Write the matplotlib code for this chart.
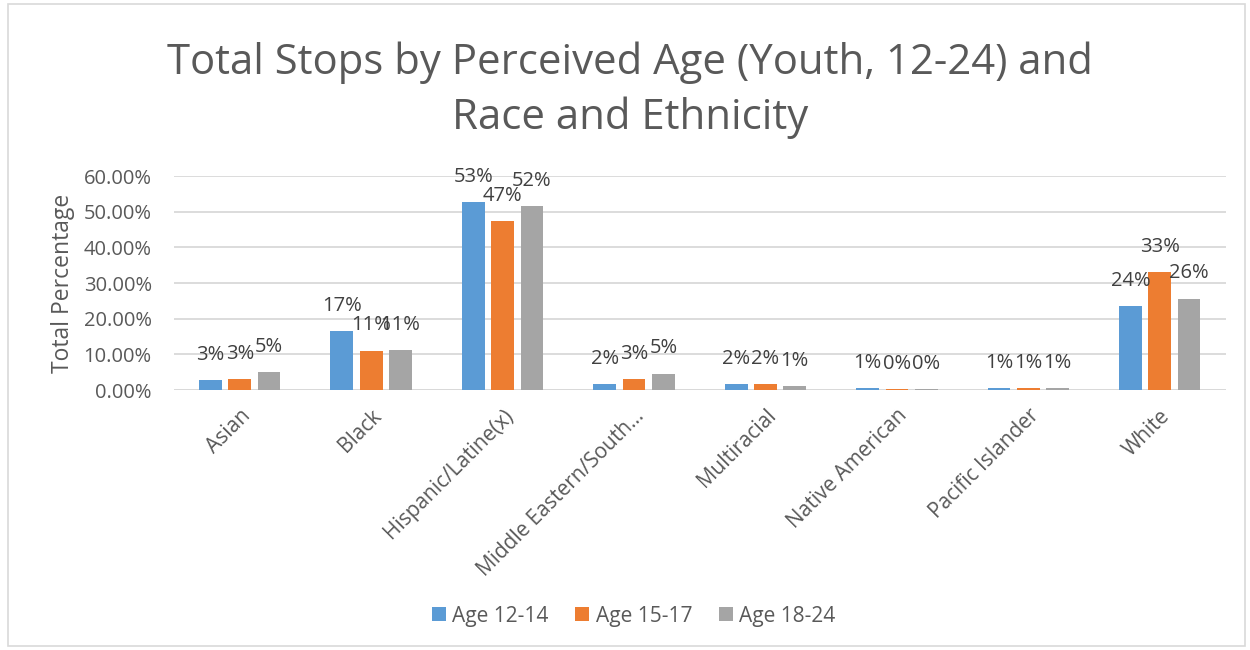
import matplotlib
matplotlib.use("Agg")
import matplotlib.pyplot as plt
import numpy as np
from matplotlib.patches import Rectangle

categories = ["Asian", "Black", "Hispanic/Latine(x)", "Middle Eastern/South…",
              "Multiracial", "Native American", "Pacific Islander", "White"]
series_names = ["Age 12-14", "Age 15-17", "Age 18-24"]
age_12_14 = [2.8, 16.6, 52.6, 1.6, 1.7, 0.6, 0.6, 23.6]
age_15_17 = [3.1, 11.0, 47.3, 3.1, 1.6, 0.3, 0.6, 33.0]
age_18_24 = [5.0, 11.1, 51.6, 4.6, 1.1, 0.2, 0.6, 25.6]
yticks = [0, 10, 20, 30, 40, 50, 60]

colors = ["#5B9BD5", "#ED7D31", "#A5A5A5"]
text_color = "#595959"
plt.rcParams['font.family'] = ['Open Sans', 'DejaVu Sans']

fig = plt.figure(figsize=(12.5, 6.5), dpi=100)
ax = fig.add_axes([0.1392, 0.4, 0.8412, 0.3292])

x = np.arange(len(categories))
step = 0.223
width = 0.173
all_series = [age_12_14, age_15_17, age_18_24]
for i, (vals, c, name) in enumerate(zip(all_series, colors, series_names)):
    pos = x + (i - 1) * step
    ax.bar(pos, vals, width=width, color=c, label=name, zorder=3)
    for px, v in zip(pos, vals):
        ax.annotate(f"{round(v):d}%", (px, v), xytext=(0, 11), textcoords="offset points",
                    ha="center", va="bottom", fontsize=14.5, color="#404040", zorder=4)

ax.set_xlim(-0.5, len(categories) - 0.5)
ax.set_ylim(0, 60)
ax.set_yticks(yticks)
ax.set_yticklabels([f"{t:.2f}%" for t in yticks], fontsize=14.5, color=text_color)
ax.yaxis.grid(True, color="#D9D9D9", linewidth=1.3, zorder=0)
ax.set_axisbelow(True)
for s in ax.spines.values():
    s.set_visible(False)
ax.tick_params(axis="both", length=0)
ax.tick_params(axis="y", pad=16)
ax.set_xticks(x)
ax.set_xticklabels(categories, rotation=45, ha="right", va="top", rotation_mode="anchor",
                   fontsize=15, color=text_color)
ax.tick_params(axis="x", pad=11)
ax.axhline(0, color="#D9D9D9", linewidth=1.3, zorder=1)

ax.set_ylabel("Total Percentage", fontsize=16.5, color=text_color, labelpad=6)

fig.text(0.504, 0.861, "Total Stops by Perceived Age (Youth, 12-24) and\nRace and Ethnicity",
         ha="center", va="center", fontsize=30.2, color=text_color, linespacing=1.38)

leg = ax.legend(loc="center", bbox_to_anchor=((0.507 - 0.1392) / 0.8412, (0.052 - 0.4) / 0.3292),
                ncol=3, frameon=False, fontsize=15, handlelength=0.67, handleheight=0.67,
                handletextpad=0.3, columnspacing=1.3)
for t in leg.get_texts():
    t.set_color(text_color)

fig.patches.append(Rectangle((0.006, 0.006), 0.99, 0.988, transform=fig.transFigure,
                             fill=False, edgecolor="#D9D9D9", linewidth=1.2))

fig.savefig("out.png", dpi=100, facecolor="white")
